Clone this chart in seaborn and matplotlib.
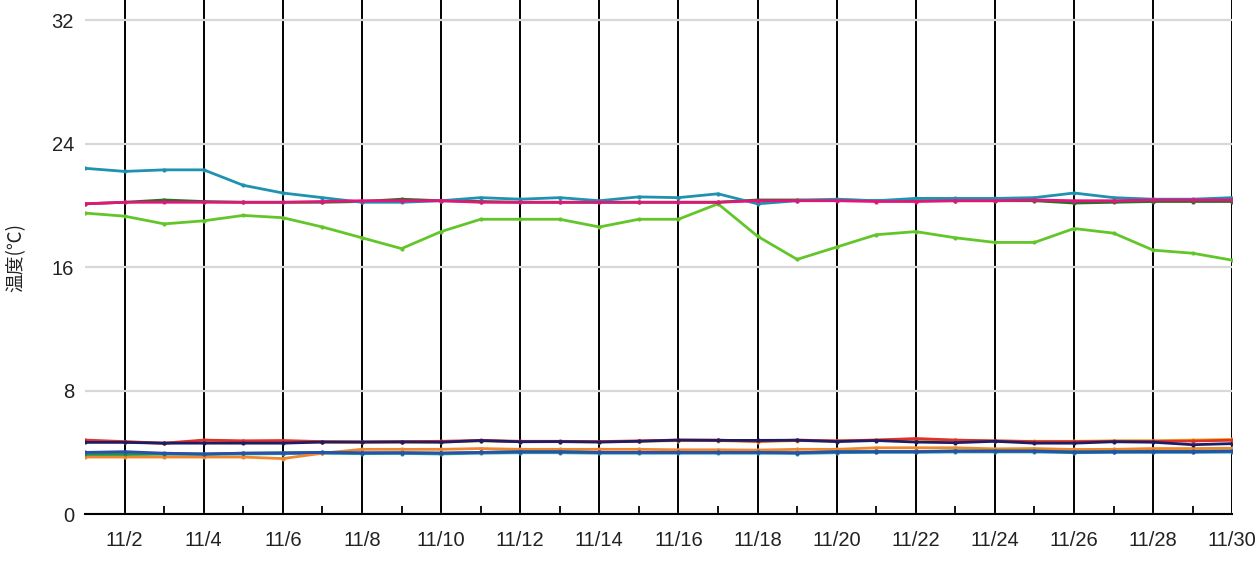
import pandas as pd
import numpy as np
import seaborn as sns
import matplotlib.pyplot as plt
from matplotlib.ticker import FixedLocator

days = list(range(1, 31))
tick_days = list(range(2, 31, 2))
tick_labels = ['11/%d' % d for d in tick_days]

# upper group (deg C)
teal = [22.4, 22.2, 22.3, 22.3, 21.3, 20.8, 20.5, 20.2, 20.2, 20.3,
        20.5, 20.4, 20.5, 20.3, 20.55, 20.5, 20.75, 20.1, 20.3, 20.4,
        20.3, 20.45, 20.45, 20.45, 20.5, 20.8, 20.5, 20.4, 20.4, 20.5]
magenta = [20.1, 20.2, 20.2, 20.2, 20.2, 20.2, 20.25, 20.3, 20.3, 20.3,
           20.2, 20.2, 20.2, 20.2, 20.2, 20.2, 20.2, 20.3, 20.3, 20.3,
           20.25, 20.25, 20.3, 20.3, 20.35, 20.3, 20.3, 20.35, 20.35, 20.35]
dark_green = [20.1, 20.2, 20.35, 20.25, 20.2, 20.2, 20.2, 20.25, 20.4, 20.3,
              20.25, 20.2, 20.2, 20.2, 20.2, 20.2, 20.2, 20.35, 20.35, 20.35,
              20.3, 20.3, 20.3, 20.3, 20.3, 20.15, 20.2, 20.25, 20.25, 20.25]
light_green = [19.5, 19.3, 18.8, 19.0, 19.35, 19.2, 18.6, 17.9, 17.2, 18.3,
               19.1, 19.1, 19.1, 18.6, 19.1, 19.1, 20.1, 18.0, 16.5, 17.3,
               18.1, 18.3, 17.9, 17.6, 17.6, 18.5, 18.2, 17.1, 16.9, 16.45]

# lower group (deg C)
red = [4.8, 4.7, 4.6, 4.8, 4.75, 4.77, 4.7, 4.68, 4.7, 4.72,
       4.78, 4.72, 4.72, 4.7, 4.75, 4.8, 4.8, 4.72, 4.8, 4.75,
       4.8, 4.9, 4.8, 4.75, 4.7, 4.7, 4.72, 4.72, 4.74, 4.79]
gold = [4.75, 4.68, 4.58, 4.75, 4.72, 4.72, 4.66, 4.66, 4.66, 4.68,
        4.74, 4.7, 4.7, 4.68, 4.72, 4.76, 4.76, 4.7, 4.76, 4.74,
        4.8, 4.85, 4.78, 4.74, 4.72, 4.72, 4.76, 4.76, 4.8, 4.85]
navy = [4.65, 4.65, 4.6, 4.6, 4.6, 4.6, 4.67, 4.67, 4.68, 4.66,
        4.77, 4.69, 4.7, 4.67, 4.72, 4.8, 4.78, 4.78, 4.79, 4.7,
        4.77, 4.67, 4.63, 4.72, 4.6, 4.6, 4.69, 4.66, 4.5, 4.57]
blue = [4.0, 4.05, 3.95, 3.9, 3.95, 3.96, 4.0, 3.98, 3.98, 3.96,
        4.0, 4.04, 4.04, 4.0, 4.0, 4.0, 4.0, 4.0, 3.98, 4.04,
        4.05, 4.05, 4.08, 4.08, 4.08, 4.02, 4.04, 4.05, 4.05, 4.07]
orange = [3.7, 3.7, 3.7, 3.7, 3.7, 3.6, 3.95, 4.2, 4.2, 4.2,
          4.25, 4.2, 4.2, 4.2, 4.2, 4.17, 4.17, 4.15, 4.2, 4.2,
          4.3, 4.3, 4.3, 4.23, 4.25, 4.19, 4.2, 4.25, 4.25, 4.27]
green = [3.9, 3.9, 3.93, 3.9, 3.95, 3.98, 4.0, 3.96, 3.98, 3.95,
         4.0, 4.05, 4.05, 4.0, 4.0, 4.0, 4.0, 4.0, 3.98, 4.05,
         4.06, 4.06, 4.1, 4.1, 4.1, 4.04, 4.06, 4.07, 4.07, 4.1]
teal_low = [3.85, 3.86, 3.88, 3.86, 3.9, 3.92, 3.94, 3.92, 3.93, 3.9,
            3.95, 3.98, 3.98, 3.95, 3.95, 3.95, 3.95, 3.95, 3.93, 3.98,
            4.0, 4.0, 4.03, 4.03, 4.03, 3.98, 4.0, 4.0, 4.0, 4.02]

series = {
    'light_green': (light_green, '#62c62a'),
    'dark_green': (dark_green, '#2d6e2a'),
    'teal': (teal, '#1e92ae'),
    'magenta': (magenta, '#e2167a'),
    'teal_low': (teal_low, '#23a3a8'),
    'orange': (orange, '#f2862c'),
    'green': (green, '#1f9638'),
    'blue': (blue, '#2a4fb0'),
    'gold': (gold, '#e8b51e'),
    'red': (red, '#e0302a'),
    'navy': (navy, '#1c1d66'),
}

df = pd.concat([pd.DataFrame({'day': days, 'temp': v, 'series': k})
                for k, (v, c) in series.items()], ignore_index=True)
palette = {k: c for k, (v, c) in series.items()}

sns.set_style('white')
plt.rcParams['font.family'] = ['Liberation Sans', 'DejaVu Sans']

fig = plt.figure(figsize=(12.6, 5.81), dpi=100)
ax = fig.add_axes([0.0675, 0.115, 0.9105, 0.885])

sns.lineplot(data=df, x='day', y='temp', hue='series', hue_order=list(series),
             palette=palette, linewidth=2, marker='o', markersize=3,
             markeredgewidth=0, legend=False, ax=ax)

ax.set_xlim(1, 30)
ax.set_ylim(0, 33.3)
ax.set_yticks([0, 8, 16, 24, 32])
ax.set_xticks(tick_days)
ax.set_xticklabels(tick_labels)
ax.xaxis.set_minor_locator(FixedLocator(list(range(3, 30, 2))))

ax.grid(axis='y', color='#d8d8d8', linewidth=1.6)
ax.grid(axis='x', which='major', color='black', linewidth=1.4)
ax.set_axisbelow(True)

for s in ['left', 'top', 'right']:
    ax.spines[s].set_visible(False)
ax.spines['bottom'].set_color('black')
ax.spines['bottom'].set_linewidth(1.5)

ax.tick_params(axis='y', length=0, labelsize=14.5, pad=8, labelcolor='#222222')
ax.tick_params(axis='x', which='major', length=0, labelsize=14.5, pad=12,
               labelcolor='#222222')
ax.tick_params(axis='x', which='minor', direction='in', length=6,
               width=1.3, color='black', bottom=True)

ax.set_xlabel('')
ax.set_ylabel('温度(℃)', family=['Noto Sans CJK JP', 'DejaVu Sans'],
              fontsize=13.5, labelpad=18, color='#222222')

fig.savefig('out.png', dpi=100, facecolor='white')
